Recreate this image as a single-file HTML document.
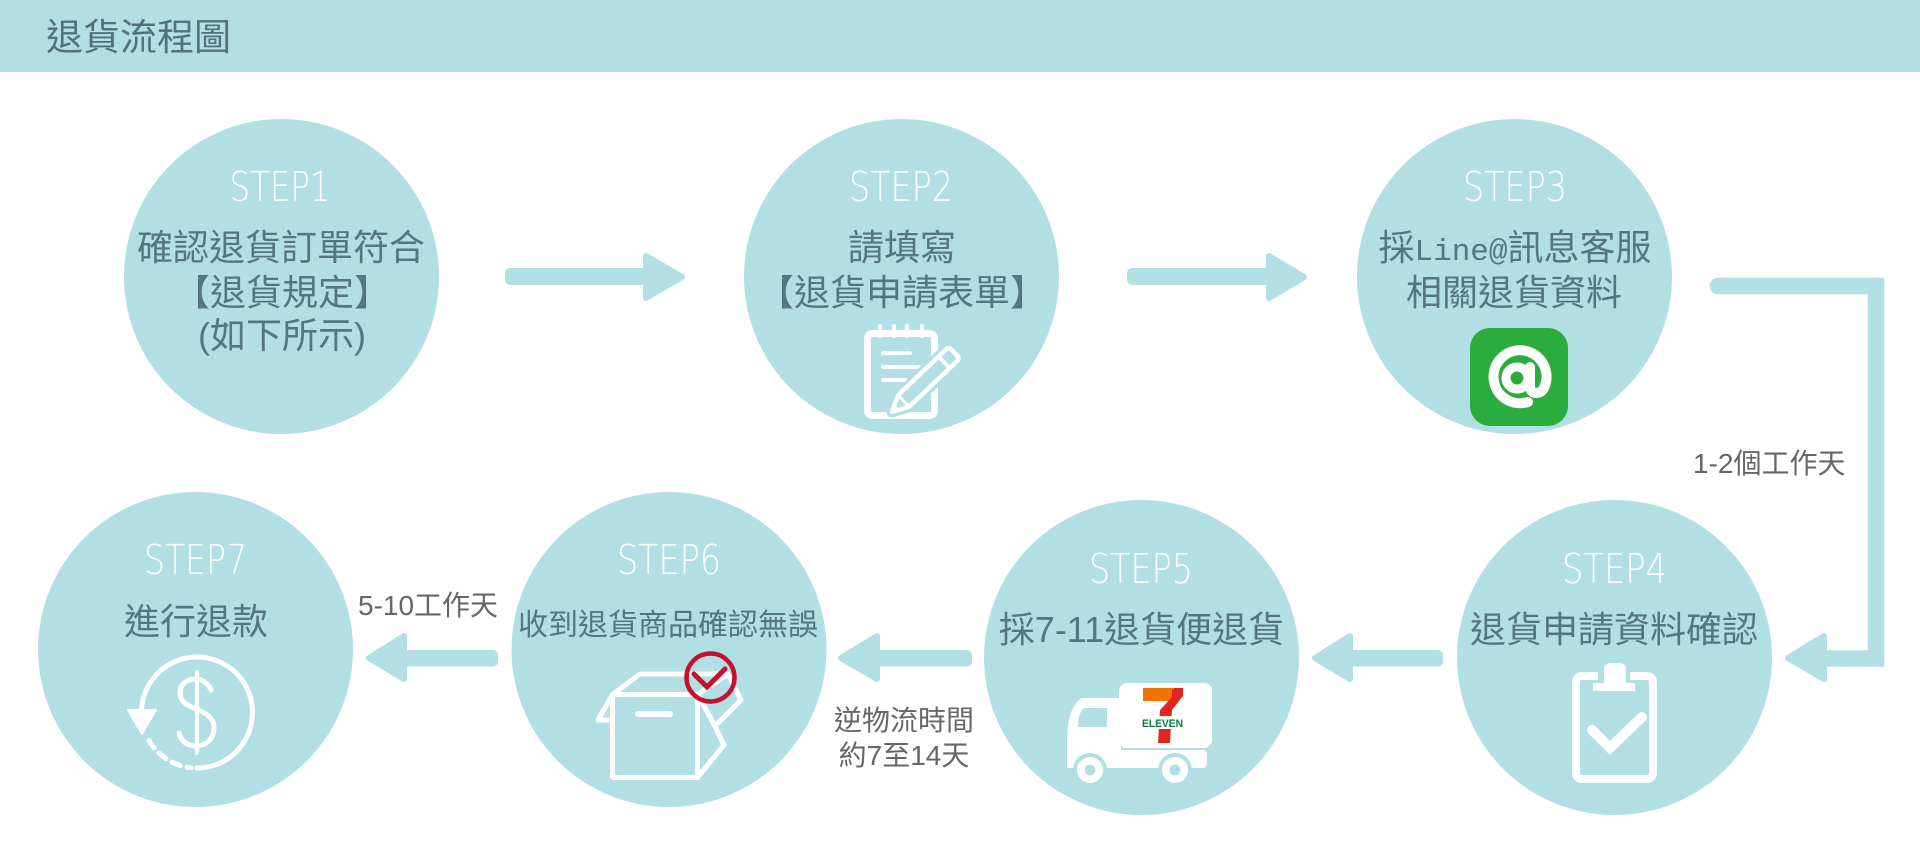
<!DOCTYPE html>
<html>
<head>
<meta charset="utf-8">
<style>
html,body{margin:0;padding:0;background:#fff;}
svg{display:block;}
.cj{font-family:"Liberation Sans","Noto Sans CJK TC",sans-serif;}
.st{font-family:"DejaVu Sans ExtraLight","DejaVu Sans Light","Liberation Sans",sans-serif;}
.sb{font-family:"Liberation Sans",sans-serif;}
</style>
</head>
<body>
<svg width="1920" height="844" viewBox="0 0 1920 844" xmlns="http://www.w3.org/2000/svg">
  <!-- header -->
  <rect x="0" y="0" width="1920" height="72" fill="#b2dfe3"/>
  <text x="46" y="50" font-size="37" fill="#52707d" class="cj">退貨流程圖</text>

  <!-- circles -->
  <g fill="#b2dfe3">
    <circle cx="281.5" cy="276.5" r="157.5"/>
    <circle cx="901.5" cy="276.5" r="157.5"/>
    <circle cx="1514.5" cy="276.5" r="157.5"/>
    <circle cx="1614.5" cy="657.5" r="157.5"/>
    <circle cx="1141.5" cy="657.5" r="157.5"/>
    <circle cx="669" cy="649.5" r="157.5"/>
    <circle cx="195.5" cy="649.5" r="157.5"/>
  </g>

  <!-- arrows -->
  <g fill="#b2dfe3" stroke="#b2dfe3" stroke-linejoin="round">
    <rect x="505" y="268" width="142" height="17" rx="5" stroke="none"/>
    <polygon points="646,256 646,298 682,277" stroke-width="6"/>
    <rect x="1127" y="268" width="142" height="17" rx="5" stroke="none"/>
    <polygon points="1269,256 1269,298 1304,277" stroke-width="6"/>

    <path d="M1718 286 H1876 V658.5 H1820" fill="none" stroke-width="16.5" stroke-linejoin="miter" stroke-linecap="round"/>
    <polygon points="1824,636 1824,679 1788,658" stroke-width="6"/>

    <rect x="1346" y="650" width="97" height="16.5" rx="5" stroke="none"/>
    <polygon points="1350,636 1350,679 1315,658" stroke-width="6"/>

    <rect x="873" y="650" width="99" height="16.5" rx="5" stroke="none"/>
    <polygon points="877,636 877,679 841,658" stroke-width="6"/>

    <rect x="400" y="650" width="98" height="16.5" rx="5" stroke="none"/>
    <polygon points="404,636 404,679 369,658" stroke-width="6"/>
  </g>

  <!-- STEP labels -->
  <g class="st" fill="#ffffff" font-size="41" text-anchor="middle">
    <text x="280" y="201" textLength="101" lengthAdjust="spacingAndGlyphs">STEP1</text>
    <text x="901" y="201" textLength="104" lengthAdjust="spacingAndGlyphs">STEP2</text>
    <text x="1515" y="201" textLength="104" lengthAdjust="spacingAndGlyphs">STEP3</text>
    <text x="1614.5" y="583" textLength="105" lengthAdjust="spacingAndGlyphs">STEP4</text>
    <text x="1141" y="583" textLength="104" lengthAdjust="spacingAndGlyphs">STEP5</text>
    <text x="669" y="574" textLength="104" lengthAdjust="spacingAndGlyphs">STEP6</text>
    <text x="195.5" y="574" textLength="103" lengthAdjust="spacingAndGlyphs">STEP7</text>
  </g>

  <!-- step texts -->
  <g class="cj" fill="#547684" font-size="36" text-anchor="middle">
    <text x="281" y="260">確認退貨訂單符合</text>
    <text x="282" y="305">【退貨規定】</text>
    <text x="282" y="348">(如下所示)</text>

    <text x="902" y="260">請填寫</text>
    <text x="902" y="305">【退貨申請表單】</text>

    <text x="1515" y="260">採<tspan font-family="Liberation Mono, monospace" font-size="31">Line@</tspan>訊息客服</text>
    <text x="1514" y="305">相關退貨資料</text>

    <text x="1614" y="642">退貨申請資料確認</text>
    <text x="1141.5" y="642">採7-11退貨便退貨</text>
    <text x="668" y="635" font-size="30">收到退貨商品確認無誤</text>
    <text x="196" y="634">進行退款</text>
  </g>

  <!-- connector labels -->
  <g class="cj" fill="#666666" font-size="28">
    <text x="1693" y="473">1-2個工作天</text>
    <text x="358" y="615">5-10工作天</text>
    <text x="904" y="730" text-anchor="middle">逆物流時間</text>
    <text x="904" y="765" text-anchor="middle">約7至14天</text>
  </g>

  <!-- STEP2 notepad icon -->
  <g fill="none" stroke="#fff" stroke-linecap="round" stroke-linejoin="round">
    <rect x="867.5" y="333.5" width="67" height="82" rx="5" stroke-width="7"/>
    <g stroke-width="4">
      <line x1="880" y1="326" x2="880" y2="336"/>
      <line x1="894" y1="326" x2="894" y2="336"/>
      <line x1="907" y1="326" x2="907" y2="336"/>
      <line x1="922" y1="326" x2="922" y2="336"/>
      <line x1="883" y1="353" x2="910" y2="353"/>
      <line x1="883" y1="367" x2="920" y2="367"/>
      <line x1="883" y1="380" x2="908" y2="380"/>
    </g>
  </g>
  <g transform="translate(892,412) rotate(-43.6)">
    <polygon points="0,0 16,-8 84,-8 86,-6 86,6 84,8 16,8" fill="#b2dfe3" stroke="#b2dfe3" stroke-width="11" stroke-linejoin="round"/>
    <polygon points="0,0 16,-8 84,-8 86,-6 86,6 84,8 16,8" fill="#b2dfe3" stroke="#fff" stroke-width="4.5" stroke-linejoin="round"/>
    <line x1="72" y1="-8" x2="72" y2="8" stroke="#fff" stroke-width="4"/>
    <line x1="16" y1="-8" x2="16" y2="8" stroke="#fff" stroke-width="3"/>
    <polygon points="0,0 7,-3.5 7,3.5" fill="#fff"/>
  </g>

  <!-- STEP3 LINE@ icon -->
  <rect x="1470" y="328" width="98" height="98" rx="20" fill="#2aad3d"/>
  <g fill="none" stroke="#fff" stroke-linecap="round">
    <path d="M1528 402 A26.5 26.5 0 1 1 1545.5 384 Q1543 393 1536 393 Q1530 393 1530 385 V367" stroke-width="10"/>
    <circle cx="1517" cy="378" r="11" stroke-width="9"/>
  </g>

  <!-- STEP4 clipboard icon -->
  <rect x="1576" y="676" width="77" height="103" rx="6" fill="none" stroke="#fff" stroke-width="8"/>
  <rect x="1598" y="672" width="32" height="8" fill="#b2dfe3"/>
  <rect x="1604" y="663" width="22" height="26" rx="6" fill="#fff"/>
  <rect x="1593" y="683" width="42" height="8" fill="#fff"/>
  <polyline points="1592,730 1610,748 1642,717" fill="none" stroke="#fff" stroke-width="10" stroke-linecap="round" stroke-linejoin="miter"/>

  <!-- STEP5 truck icon -->
  <g>
    <rect x="1119" y="683" width="93" height="65" rx="8" fill="#fff"/>
    <path d="M1082 698 H1121 V768 H1067 V738 Q1068 706 1082 698 Z" fill="#fff"/>
    <path d="M1084 708 H1107 V727 H1078 Q1078 713 1084 708 Z" fill="#b2dfe3"/>
    <path d="M1067 750 H1202 Q1207 750 1207 755 V763 Q1207 768 1202 768 H1067 Z" fill="#fff"/>
    <circle cx="1090" cy="770" r="17" fill="#b2dfe3"/>
    <circle cx="1175" cy="770" r="17" fill="#b2dfe3"/>
    <circle cx="1090" cy="770" r="13" fill="#fff"/>
    <circle cx="1175" cy="770" r="13" fill="#fff"/>
    <circle cx="1090" cy="770" r="5.5" fill="#b2dfe3"/>
    <circle cx="1175" cy="770" r="5.5" fill="#b2dfe3"/>
    <rect x="1143" y="688" width="30" height="13" fill="#ee7300"/>
    <polygon points="1174,688 1183,688 1183,696 1172,710 1170,743 1158,743 1160,710 1172,697 1172,690" fill="#e0261e"/>
    <rect x="1141" y="716" width="44" height="13" fill="#fff"/>
    <text x="1142" y="727" font-size="11" font-weight="bold" fill="#00803d" class="sb" textLength="41" lengthAdjust="spacingAndGlyphs">ELEVEN</text>
  </g>

  <!-- STEP6 box icon -->
  <g fill="none" stroke="#fff" stroke-width="5" stroke-linejoin="round" stroke-linecap="round">
    <rect x="612.5" y="694.5" width="85" height="83" rx="1"/>
    <polyline points="612.5,694.5 640,674 728,674 697.5,694.5"/>
    <polyline points="612.5,694.5 598,720 608,720"/>
    <polyline points="697.5,694.5 715,726 741,700 728,674"/>
    <polyline points="713,722 724,745 697.5,777.5"/>
    <line x1="638" y1="714" x2="670" y2="714" stroke-width="6"/>
  </g>
  <circle cx="710.5" cy="677.5" r="24" fill="none" stroke="#c5112c" stroke-width="4.5"/>
  <polyline points="694,674 707,687 725,669" fill="none" stroke="#c5112c" stroke-width="5" stroke-linecap="round" stroke-linejoin="miter"/>

  <!-- STEP7 refund icon -->
  <g fill="none" stroke="#fff" stroke-linecap="round">
    <path d="M197 768 A55.5 55.5 0 1 0 141.7 707.7" stroke-width="5"/>
    <path d="M149 740.5 A55.5 55.5 0 0 0 191 767.7" stroke-width="5" stroke-dasharray="9 7"/>
    <path d="M211 690 C208 683 202 679 196 679 C186 679 180 685 180 693 C180 712 214 706 214 728 C214 739 206 746 196 746 C187 746 181 741 179 733" stroke-width="5"/>
    <line x1="197" y1="672" x2="197" y2="753" stroke-width="4"/>
  </g>
  <polygon points="128,710 156,710 142,734" fill="#fff" stroke="#fff" stroke-width="2" stroke-linejoin="round"/>
</svg>
</body>
</html>
